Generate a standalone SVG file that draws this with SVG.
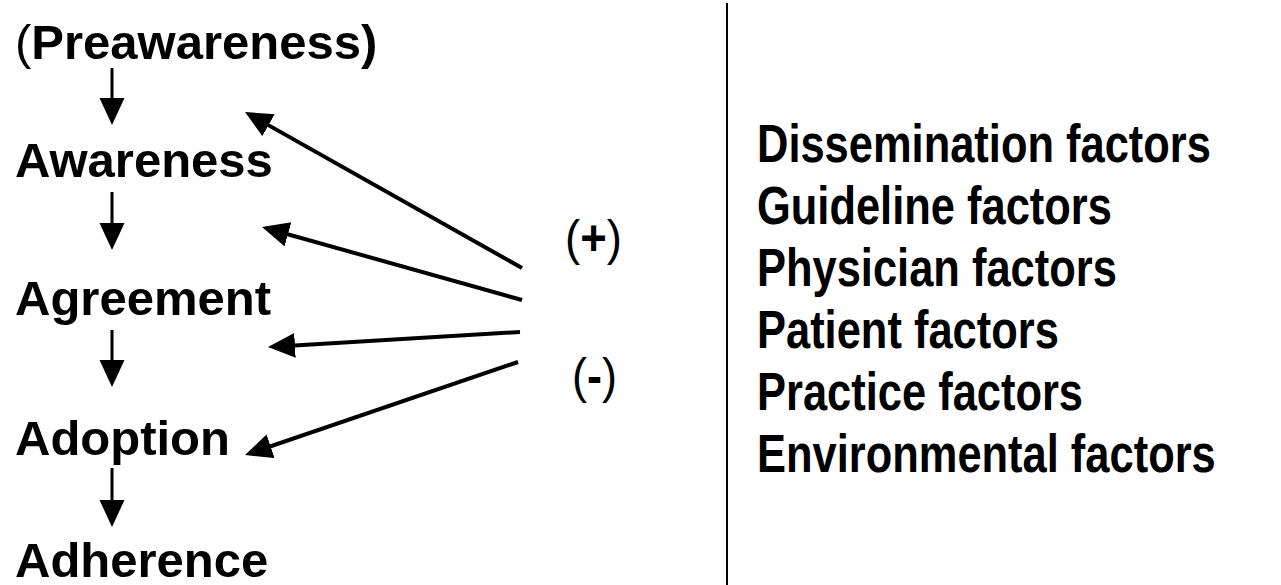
<svg xmlns="http://www.w3.org/2000/svg" width="1281" height="585" viewBox="0 0 1281 585">
<style>
text{font-family:"Liberation Sans",Arial,sans-serif;fill:#000}
.stage{font-size:49px;font-weight:bold}
.factor{font-size:53px;font-weight:bold}
.sign{font-size:50px}
.reg{font-weight:normal}
.b{font-weight:bold}
.down{stroke:#000;stroke-width:3;fill:none}
.diag{stroke:#000;stroke-width:4;fill:none}
</style>
<defs>
<marker id="ah" markerUnits="userSpaceOnUse" markerWidth="28" markerHeight="26" refX="17" refY="12.5" orient="auto">
<path d="M0,0 L27,12.5 L0,25 Z" fill="#000"/>
</marker>
</defs>
<rect width="1281" height="585" fill="#fff"/>
<g id="preawareness"><text class="stage" x="15" y="59"><tspan class="reg">(</tspan>Preawareness)</text></g>
<g id="awareness"><text class="stage" x="15" y="177">Awareness</text></g>
<g id="agreement"><text class="stage" x="15" y="315">Agreement</text></g>
<g id="adoption"><text class="stage" x="15" y="455">Adoption</text></g>
<g id="adherence"><text class="stage" x="15" y="577">Adherence</text></g>
<g id="plus"><text class="sign" transform="translate(565,255) scale(0.91,1)">(<tspan class="b">+</tspan>)</text></g>
<g id="minus"><text class="sign" transform="translate(572,393) scale(0.9,1)">(<tspan class="b">-</tspan>)</text></g>
<g id="factors">
<text class="factor" transform="translate(757,162) scale(0.82,1)">Dissemination factors</text>
<text class="factor" transform="translate(757,224) scale(0.82,1)">Guideline factors</text>
<text class="factor" transform="translate(757,286) scale(0.82,1)">Physician factors</text>
<text class="factor" transform="translate(757,348) scale(0.82,1)">Patient factors</text>
<text class="factor" transform="translate(757,410) scale(0.82,1)">Practice factors</text>
<text class="factor" transform="translate(757,472) scale(0.82,1)">Environmental factors</text>
</g>
<g id="connectors">
<line class="down" x1="112" y1="68" x2="112" y2="115" marker-end="url(#ah)"/>
<line class="down" x1="112" y1="192" x2="112" y2="240" marker-end="url(#ah)"/>
<line class="down" x1="112" y1="330" x2="112" y2="377" marker-end="url(#ah)"/>
<line class="down" x1="112" y1="468" x2="112" y2="517" marker-end="url(#ah)"/>
<line class="diag" x1="522" y1="268" x2="253.7" y2="116.9" marker-end="url(#ah)"/>
<line class="diag" x1="522" y1="300" x2="271.6" y2="229.7" marker-end="url(#ah)"/>
<line class="diag" x1="520" y1="332" x2="278" y2="346.4" marker-end="url(#ah)"/>
<line class="diag" x1="518" y1="362" x2="254.5" y2="451.8" marker-end="url(#ah)"/>
<line x1="727" y1="3" x2="727" y2="585" stroke="#000" stroke-width="2"/>
</g>
</svg>
